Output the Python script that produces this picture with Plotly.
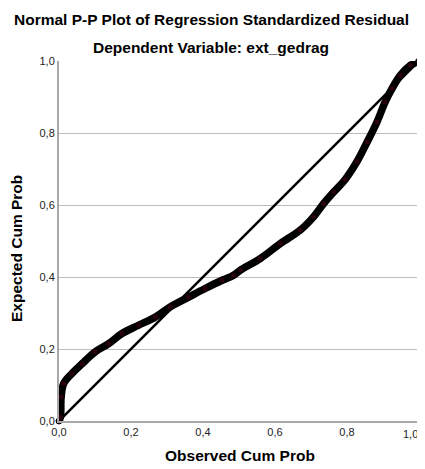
import plotly.graph_objects as go

# Observed cumulative probability (x) and expected cumulative probability (y)
observed = [0.0, 0.004, 0.006, 0.013, 0.036, 0.064, 0.10, 0.138, 0.175, 0.221, 0.268,
            0.309, 0.36, 0.406, 0.453, 0.485, 0.504, 0.559, 0.615, 0.67, 0.707,
            0.735, 0.763, 0.795, 0.828, 0.856, 0.883, 0.906, 0.925, 0.948, 0.976, 0.999]
expected = [0.0, 0.011, 0.067, 0.104, 0.132, 0.159, 0.192, 0.215, 0.243, 0.266, 0.289,
            0.317, 0.344, 0.368, 0.391, 0.405, 0.419, 0.451, 0.493, 0.53, 0.567,
            0.604, 0.636, 0.671, 0.721, 0.775, 0.83, 0.886, 0.923, 0.96, 0.988, 0.999]
ref_line = [0.0, 1.0]
tick_vals = [0.0, 0.2, 0.4, 0.6, 0.8, 1.0]
tick_text = ["0,0", "0,2", "0,4", "0,6", "0,8", "1,0"]

# the page body has an 8px default margin, so the figure is drawn 8px in
OFF = 8
W, H = 425 - OFF, 469 - OFF
L, R, T, B = 59 - OFF, 6, 61 - OFF, 48
PW = W - L - R
PH = H - T - B


def px(pix):
    """page pixel column -> paper x"""
    return (pix - OFF - L) / PW


def py(pix):
    """page pixel row -> paper y"""
    return (H - B - (pix - OFF)) / PH


fig = go.Figure()
fig.add_trace(go.Scatter(x=ref_line, y=ref_line, mode="lines", cliponaxis=False,
                         line=dict(color="black", width=2.5), hoverinfo="skip"))
fig.add_trace(go.Scatter(x=observed, y=expected, mode="lines+markers", cliponaxis=False,
                         line=dict(color="black", width=7.5, shape="spline"),
                         marker=dict(size=6, color="#2a000c", symbol="circle",
                                     line=dict(color="black", width=1))))

font_family = "Liberation Sans, Arial, sans-serif"
fig.update_layout(
    width=W, height=H,
    margin=dict(l=L, r=R, t=T, b=B, autoexpand=False),
    paper_bgcolor="white", plot_bgcolor="white",
    showlegend=False,
    font=dict(family=font_family, color="black", size=11),
    xaxis=dict(range=[0, 1], tickvals=tick_vals[:-1], ticktext=tick_text[:-1], automargin=False,
               showgrid=False, zeroline=False, showline=True, linecolor="#a8a8a8",
               linewidth=2, ticks="", tickfont=dict(size=11, color="#222")),
    yaxis=dict(range=[0, 1], tickvals=tick_vals, ticktext=tick_text, automargin=False,
               showgrid=True, gridcolor="#bdbdbd", gridwidth=1, zeroline=False,
               showline=True, linecolor="#a8a8a8", linewidth=2, ticks="",
               tickfont=dict(size=11, color="#222")),
)
# last x tick label: plotly drops it because it overflows the right edge, so place it by hand
fig.add_annotation(text=tick_text[-1], xref="paper", yref="paper", x=1, y=py(434),
                   showarrow=False, font=dict(size=11, color="#222"),
                   xanchor="right", xshift=0, yanchor="middle", borderpad=0)
fig.add_annotation(text="<b>Normal P-P Plot of Regression Standardized Residual</b>",
                   xref="paper", yref="paper", x=px(211), y=py(20),
                   showarrow=False, font=dict(size=15.5), xanchor="center", yanchor="middle")
fig.add_annotation(text="<b>Dependent Variable: ext_gedrag</b>",
                   xref="paper", yref="paper", x=px(211), y=py(48),
                   showarrow=False, font=dict(size=15.5), xanchor="center", yanchor="middle")
fig.add_annotation(text="<b>Observed Cum Prob</b>",
                   xref="paper", yref="paper", x=px(239.5), y=py(455),
                   showarrow=False, font=dict(size=15.5), xanchor="center", yanchor="middle")
fig.add_annotation(text="<b>Expected Cum Prob</b>", textangle=-90,
                   xref="paper", yref="paper", x=px(17), y=py(249),
                   showarrow=False, font=dict(size=15.5), xanchor="center", yanchor="middle")

fig.write_html("out.html")
